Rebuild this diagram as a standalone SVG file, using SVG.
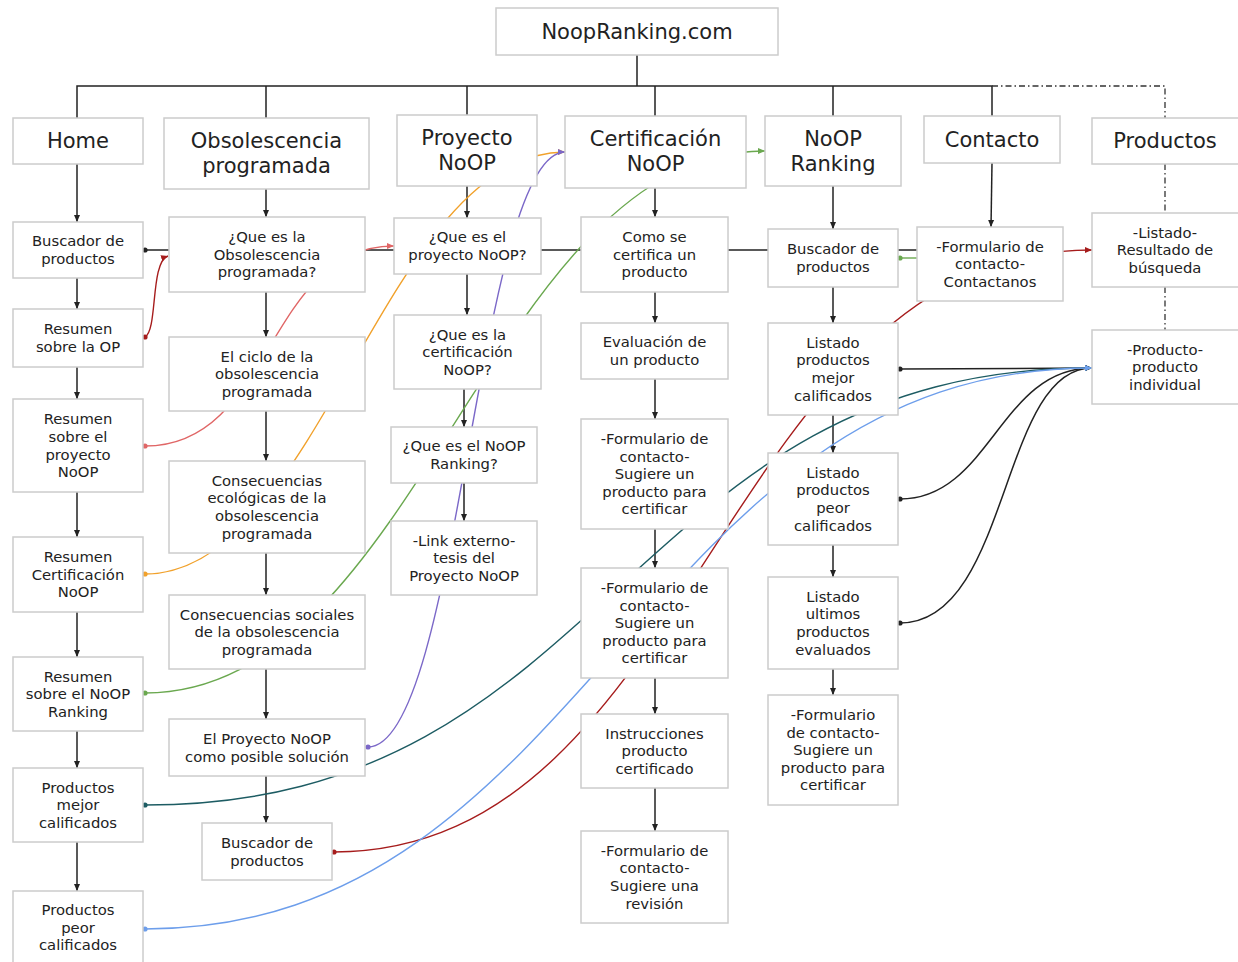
<svg xmlns="http://www.w3.org/2000/svg" width="1238" height="962" viewBox="0 0 1238 962">
<style>
.box{fill:#fff;stroke:#cccccc;stroke-width:1.5}
.t{font-family:"DejaVu Sans","Liberation Sans",sans-serif;font-size:14.8px;fill:#222;text-anchor:middle}
.T{font-size:21px}
.k{fill:none;stroke:#222;stroke-width:1.5}
.dd{fill:none;stroke:#333;stroke-width:1.3;stroke-dasharray:6 3 1.5 3}
.c{fill:none;stroke-width:1.4}
</style>
<defs>
<marker id="ak" markerWidth="8" markerHeight="8" refX="7" refY="4" orient="auto" markerUnits="userSpaceOnUse"><path d="M0,1 L7,4 L0,7 z" fill="#222"/></marker>
<marker id="ar" markerWidth="8" markerHeight="8" refX="7" refY="4" orient="auto" markerUnits="userSpaceOnUse"><path d="M0,1 L7,4 L0,7 z" fill="#a61c1c"/></marker>
<marker id="as" markerWidth="8" markerHeight="8" refX="7" refY="4" orient="auto" markerUnits="userSpaceOnUse"><path d="M0,1 L7,4 L0,7 z" fill="#e06666"/></marker>
<marker id="ao" markerWidth="8" markerHeight="8" refX="7" refY="4" orient="auto" markerUnits="userSpaceOnUse"><path d="M0,1 L7,4 L0,7 z" fill="#f1a12b"/></marker>
<marker id="ap" markerWidth="8" markerHeight="8" refX="7" refY="4" orient="auto" markerUnits="userSpaceOnUse"><path d="M0,1 L7,4 L0,7 z" fill="#7b68c8"/></marker>
<marker id="ag" markerWidth="8" markerHeight="8" refX="7" refY="4" orient="auto" markerUnits="userSpaceOnUse"><path d="M0,1 L7,4 L0,7 z" fill="#6aa84f"/></marker>
<marker id="at" markerWidth="8" markerHeight="8" refX="7" refY="4" orient="auto" markerUnits="userSpaceOnUse"><path d="M0,1 L7,4 L0,7 z" fill="#1d5c63"/></marker>
<marker id="ab" markerWidth="8" markerHeight="8" refX="7" refY="4" orient="auto" markerUnits="userSpaceOnUse"><path d="M0,1 L7,4 L0,7 z" fill="#6d9eeb"/></marker>
</defs>

<g id="connectors">
<!-- tree bus -->
<path class="k" d="M637,55 V86 M77,118 V86 H992 V116 M266,86 V118 M467,86 V115 M655,86 V116 M833,86 V116"/>
<path class="dd" d="M992,86 H1165 V118 M1165,164 V213 M1165,287 V330"/>
<!-- row 2 horizontal -->
<path class="k" d="M145,250 H917"/>
<circle cx="145" cy="250" r="2.6" fill="#222"/>
<!-- column arrows -->
<path class="k" marker-end="url(#ak)" d="M77,164 V222"/>
<path class="k" marker-end="url(#ak)" d="M77,278 V309"/>
<path class="k" marker-end="url(#ak)" d="M77,367 V399"/>
<path class="k" marker-end="url(#ak)" d="M77,492 V537"/>
<path class="k" marker-end="url(#ak)" d="M77,612 V657"/>
<path class="k" marker-end="url(#ak)" d="M77,731 V768"/>
<path class="k" marker-end="url(#ak)" d="M77,842 V891"/>
<path class="k" marker-end="url(#ak)" d="M266,189 V217"/>
<path class="k" marker-end="url(#ak)" d="M266,292 V337"/>
<path class="k" marker-end="url(#ak)" d="M266,411 V461"/>
<path class="k" marker-end="url(#ak)" d="M266,553 V595"/>
<path class="k" marker-end="url(#ak)" d="M266,669 V719"/>
<path class="k" marker-end="url(#ak)" d="M266,776 V823"/>
<path class="k" marker-end="url(#ak)" d="M467,186 V218"/>
<path class="k" marker-end="url(#ak)" d="M467,274 V315"/>
<path class="k" marker-end="url(#ak)" d="M464,389 V427"/>
<path class="k" marker-end="url(#ak)" d="M464,483 V521"/>
<path class="k" marker-end="url(#ak)" d="M655,188 V217"/>
<path class="k" marker-end="url(#ak)" d="M655,292 V323"/>
<path class="k" marker-end="url(#ak)" d="M655,379 V419"/>
<path class="k" marker-end="url(#ak)" d="M655,529 V568"/>
<path class="k" marker-end="url(#ak)" d="M655,678 V714"/>
<path class="k" marker-end="url(#ak)" d="M655,788 V831"/>
<path class="k" marker-end="url(#ak)" d="M833,186 V229"/>
<path class="k" marker-end="url(#ak)" d="M833,287 V323"/>
<path class="k" marker-end="url(#ak)" d="M833,415 V453"/>
<path class="k" marker-end="url(#ak)" d="M833,545 V577"/>
<path class="k" marker-end="url(#ak)" d="M833,669 V695"/>
<path class="k" marker-end="url(#ak)" d="M992,163 L991,227"/>
<!-- black curves to Producto individual -->
<path class="k" marker-end="url(#ak)" d="M900,369 L1092,368"/>
<circle cx="900" cy="369" r="2.6" fill="#222"/>
<path class="k" marker-end="url(#ak)" d="M900,499 C990,499 1000,368 1092,368"/>
<circle cx="900" cy="499" r="2.6" fill="#222"/>
<path class="k" marker-end="url(#ak)" d="M900,623 C1010,623 1000,368 1092,368"/>
<circle cx="900" cy="623" r="2.6" fill="#222"/>
<!-- colored links -->
<path class="c" stroke="#a61c1c" marker-end="url(#ar)" d="M145,337 C158,330 150,262 168,256"/>
<circle cx="145" cy="337" r="2.6" fill="#a61c1c"/>
<path class="c" stroke="#e06666" marker-end="url(#as)" d="M145,446 C274,446 266,246 394,246"/>
<circle cx="145" cy="446" r="2.6" fill="#e06666"/>
<path class="c" stroke="#f1a12b" marker-end="url(#ao)" d="M145,574 C320,574 385,152 565,152"/>
<circle cx="145" cy="574" r="2.6" fill="#f1a12b"/>
<path class="c" stroke="#6aa84f" marker-end="url(#ag)" d="M145,693 C420,693 491,151 765,151"/>
<circle cx="145" cy="693" r="2.6" fill="#6aa84f"/>
<path class="c" stroke="#6aa84f" d="M900,258 H917"/>
<circle cx="900" cy="258" r="2.6" fill="#6aa84f"/>
<path class="c" stroke="#7b68c8" marker-end="url(#ap)" d="M368,747 C459,747 478,152 565,152"/>
<circle cx="368" cy="747" r="2.6" fill="#7b68c8"/>
<path class="c" stroke="#a61c1c" marker-end="url(#ar)" d="M334,852 C700,852 723,250 1092,250"/>
<circle cx="334" cy="852" r="2.6" fill="#a61c1c"/>
<path class="c" stroke="#1d5c63" marker-end="url(#at)" d="M145,805 C614,805 624,368 1092,368"/>
<circle cx="145" cy="805" r="2.6" fill="#1d5c63"/>
<path class="c" stroke="#6d9eeb" marker-end="url(#ab)" d="M145,929 C592,929 641,368 1092,368"/>
<circle cx="145" cy="929" r="2.6" fill="#6d9eeb"/>
</g>

<g id="n-root"><rect class="box" x="496" y="8" width="282" height="47"/><text class="t T" x="637" y="38.8">NoopRanking.com</text></g>

<g id="n-home"><rect class="box" x="13" y="118" width="130" height="46"/><text class="t T" x="78" y="148.3">Home</text></g>
<g id="n-obs"><rect class="box" x="164" y="118" width="205" height="71"/><text class="t T" x="266.5" y="148.3">Obsolescencia<tspan x="266.5" dy="25">programada</tspan></text></g>
<g id="n-proy"><rect class="box" x="397" y="115" width="140" height="71"/><text class="t T" x="467" y="145.3">Proyecto<tspan x="467" dy="25">NoOP</tspan></text></g>
<g id="n-cert"><rect class="box" x="565" y="116" width="181" height="72"/><text class="t T" x="655.5" y="146.3">Certificación<tspan x="655.5" dy="25">NoOP</tspan></text></g>
<g id="n-rank"><rect class="box" x="765" y="116" width="136" height="70"/><text class="t T" x="833" y="145.8">NoOP<tspan x="833" dy="25">Ranking</tspan></text></g>
<g id="n-contacto"><rect class="box" x="924" y="116" width="136" height="47"/><text class="t T" x="992" y="146.8">Contacto</text></g>
<g id="n-productos"><rect class="box" x="1092" y="118" width="150" height="46"/><text class="t T" x="1165" y="148.3">Productos</text></g>

<g id="n-h1"><rect class="box" x="13" y="222" width="130" height="56"/><text class="t" x="78" y="246.4">Buscador de<tspan x="78" dy="17.6">productos</tspan></text></g>
<g id="n-h2"><rect class="box" x="13" y="309" width="130" height="58"/><text class="t" x="78" y="334.4">Resumen<tspan x="78" dy="17.6">sobre la OP</tspan></text></g>
<g id="n-h3"><rect class="box" x="13" y="399" width="130" height="93"/><text class="t" x="78" y="424.3">Resumen<tspan x="78" dy="17.6">sobre el</tspan><tspan x="78" dy="17.6">proyecto</tspan><tspan x="78" dy="17.6">NoOP</tspan></text></g>
<g id="n-h4"><rect class="box" x="13" y="537" width="130" height="75"/><text class="t" x="78" y="562.1">Resumen<tspan x="78" dy="17.6">Certificación</tspan><tspan x="78" dy="17.6">NoOP</tspan></text></g>
<g id="n-h5"><rect class="box" x="13" y="657" width="130" height="74"/><text class="t" x="78" y="681.6">Resumen<tspan x="78" dy="17.6">sobre el NoOP</tspan><tspan x="78" dy="17.6">Ranking</tspan></text></g>
<g id="n-h6"><rect class="box" x="13" y="768" width="130" height="74"/><text class="t" x="78" y="792.6">Productos<tspan x="78" dy="17.6">mejor</tspan><tspan x="78" dy="17.6">calificados</tspan></text></g>
<g id="n-h7"><rect class="box" x="13" y="891" width="130" height="74"/><text class="t" x="78" y="915">Productos<tspan x="78" dy="17.6">peor</tspan><tspan x="78" dy="17.6">calificados</tspan></text></g>

<g id="n-o1"><rect class="box" x="169" y="217" width="196" height="75"/><text class="t" x="267" y="242.1">¿Que es la<tspan x="267" dy="17.6">Obsolescencia</tspan><tspan x="267" dy="17.6">programada?</tspan></text></g>
<g id="n-o2"><rect class="box" x="169" y="337" width="196" height="74"/><text class="t" x="267" y="361.6">El ciclo de la<tspan x="267" dy="17.6">obsolescencia</tspan><tspan x="267" dy="17.6">programada</tspan></text></g>
<g id="n-o3"><rect class="box" x="169" y="461" width="196" height="92"/><text class="t" x="267" y="485.8">Consecuencias<tspan x="267" dy="17.6">ecológicas de la</tspan><tspan x="267" dy="17.6">obsolescencia</tspan><tspan x="267" dy="17.6">programada</tspan></text></g>
<g id="n-o4"><rect class="box" x="169" y="595" width="196" height="74"/><text class="t" x="267" y="619.6">Consecuencias sociales<tspan x="267" dy="17.6">de la obsolescencia</tspan><tspan x="267" dy="17.6">programada</tspan></text></g>
<g id="n-o5"><rect class="box" x="169" y="719" width="196" height="57"/><text class="t" x="267" y="743.9">El Proyecto NoOP<tspan x="267" dy="17.6">como posible solución</tspan></text></g>
<g id="n-o6"><rect class="box" x="202" y="823" width="130" height="57"/><text class="t" x="267" y="847.9">Buscador de<tspan x="267" dy="17.6">productos</tspan></text></g>

<g id="n-p1"><rect class="box" x="394" y="218" width="147" height="56"/><text class="t" x="467.5" y="242.4">¿Que es el<tspan x="467.5" dy="17.6">proyecto NoOP?</tspan></text></g>
<g id="n-p2"><rect class="box" x="394" y="315" width="147" height="74"/><text class="t" x="467.5" y="339.6">¿Que es la<tspan x="467.5" dy="17.6">certificación</tspan><tspan x="467.5" dy="17.6">NoOP?</tspan></text></g>
<g id="n-p3"><rect class="box" x="391" y="427" width="146" height="56"/><text class="t" x="464" y="451.4">¿Que es el NoOP<tspan x="464" dy="17.6">Ranking?</tspan></text></g>
<g id="n-p4"><rect class="box" x="391" y="521" width="146" height="74"/><text class="t" x="464" y="545.6">-Link externo-<tspan x="464" dy="17.6">tesis del</tspan><tspan x="464" dy="17.6">Proyecto NoOP</tspan></text></g>

<g id="n-c1"><rect class="box" x="581" y="217" width="147" height="75"/><text class="t" x="654.5" y="242.1">Como se<tspan x="654.5" dy="17.6">certifica un</tspan><tspan x="654.5" dy="17.6">producto</tspan></text></g>
<g id="n-c2"><rect class="box" x="581" y="323" width="147" height="56"/><text class="t" x="654.5" y="347.4">Evaluación de<tspan x="654.5" dy="17.6">un producto</tspan></text></g>
<g id="n-c3"><rect class="box" x="581" y="419" width="147" height="110"/><text class="t" x="654.5" y="444">-Formulario de<tspan x="654.5" dy="17.6">contacto-</tspan><tspan x="654.5" dy="17.6">Sugiere un</tspan><tspan x="654.5" dy="17.6">producto para</tspan><tspan x="654.5" dy="17.6">certificar</tspan></text></g>
<g id="n-c4"><rect class="box" x="581" y="568" width="147" height="110"/><text class="t" x="654.5" y="593">-Formulario de<tspan x="654.5" dy="17.6">contacto-</tspan><tspan x="654.5" dy="17.6">Sugiere un</tspan><tspan x="654.5" dy="17.6">producto para</tspan><tspan x="654.5" dy="17.6">certificar</tspan></text></g>
<g id="n-c5"><rect class="box" x="581" y="714" width="147" height="74"/><text class="t" x="654.5" y="738.6">Instrucciones<tspan x="654.5" dy="17.6">producto</tspan><tspan x="654.5" dy="17.6">certificado</tspan></text></g>
<g id="n-c6"><rect class="box" x="581" y="831" width="147" height="92"/><text class="t" x="654.5" y="855.8">-Formulario de<tspan x="654.5" dy="17.6">contacto-</tspan><tspan x="654.5" dy="17.6">Sugiere una</tspan><tspan x="654.5" dy="17.6">revisión</tspan></text></g>

<g id="n-r1"><rect class="box" x="768" y="229" width="130" height="58"/><text class="t" x="833" y="254.4">Buscador de<tspan x="833" dy="17.6">productos</tspan></text></g>
<g id="n-r2"><rect class="box" x="768" y="323" width="130" height="92"/><text class="t" x="833" y="347.8">Listado<tspan x="833" dy="17.6">productos</tspan><tspan x="833" dy="17.6">mejor</tspan><tspan x="833" dy="17.6">calificados</tspan></text></g>
<g id="n-r3"><rect class="box" x="768" y="453" width="130" height="92"/><text class="t" x="833" y="477.8">Listado<tspan x="833" dy="17.6">productos</tspan><tspan x="833" dy="17.6">peor</tspan><tspan x="833" dy="17.6">calificados</tspan></text></g>
<g id="n-r4"><rect class="box" x="768" y="577" width="130" height="92"/><text class="t" x="833" y="601.8">Listado<tspan x="833" dy="17.6">ultimos</tspan><tspan x="833" dy="17.6">productos</tspan><tspan x="833" dy="17.6">evaluados</tspan></text></g>
<g id="n-r5"><rect class="box" x="768" y="695" width="130" height="110"/><text class="t" x="833" y="720">-Formulario<tspan x="833" dy="17.6">de contacto-</tspan><tspan x="833" dy="17.6">Sugiere un</tspan><tspan x="833" dy="17.6">producto para</tspan><tspan x="833" dy="17.6">certificar</tspan></text></g>

<g id="n-k1"><rect class="box" x="917" y="227" width="146" height="74"/><text class="t" x="990" y="251.6">-Formulario de<tspan x="990" dy="17.6">contacto-</tspan><tspan x="990" dy="17.6">Contactanos</tspan></text></g>

<g id="n-s1"><rect class="box" x="1092" y="213" width="150" height="74"/><text class="t" x="1165" y="237.6">-Listado-<tspan x="1165" dy="17.6">Resultado de</tspan><tspan x="1165" dy="17.6">búsqueda</tspan></text></g>
<g id="n-s2"><rect class="box" x="1092" y="330" width="150" height="74"/><text class="t" x="1165" y="354.6">-Producto-<tspan x="1165" dy="17.6">producto</tspan><tspan x="1165" dy="17.6">individual</tspan></text></g>
</svg>
